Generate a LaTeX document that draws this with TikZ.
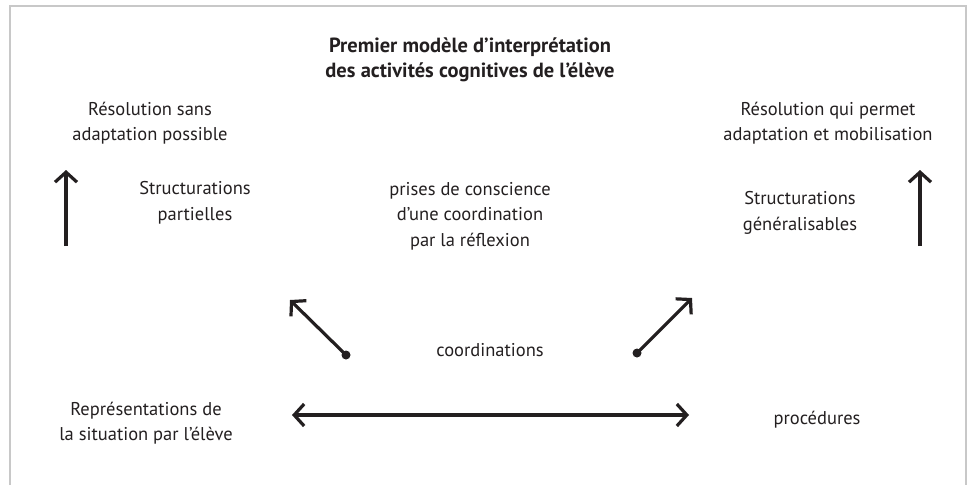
\documentclass[tikz,border=0pt]{standalone}
\usepackage{fontspec}
\setmainfont{PT Sans}
\usetikzlibrary{arrows.meta}
\definecolor{txt}{HTML}{231F20}
\definecolor{frame}{HTML}{C8C8C8}
\begin{document}
\begin{tikzpicture}[x=1pt,y=-1pt,
  lbl/.style={text=txt,font=\fontsize{18.5}{25.5}\selectfont,align=center,inner sep=0pt},
  tip/.style={Straight Barb[length=10pt,width=22pt,line width=3.2pt]},
  arr/.style={draw=txt,line width=3.2pt,-{Straight Barb[length=10pt,width=22pt,line width=3.2pt]}},
  darr/.style={draw=txt,line width=3.2pt,{Straight Barb[length=10pt,width=22pt,line width=3.2pt]}-{Straight Barb[length=10pt,width=22pt,line width=3.2pt]}},
  dot/.style={circle,fill=txt,inner sep=0pt,minimum size=9pt}]
\useasboundingbox (0,0) rectangle (976,485);
\draw[frame,line width=2.5pt] (10,485) -- (10,6) -- (966,6) -- (966,485);
\node[lbl,font=\bfseries\fontsize{20.5}{25}\selectfont] (title) at (470,60) {Premier modèle d’interprétation\\des activités cognitives de l’élève};
\node[lbl] (rsans) at (150,123) {Résolution sans\\adaptation possible};
\node[lbl] (rqui) at (828,123) {Résolution qui permet\\adaptation et mobilisation};
\node[lbl] (spart) at (195,203) {Structurations\\partielles};
\node[lbl] (prises) at (470,216) {prises de conscience\\d’une coordination\\par la réflexion};
\node[lbl] (sgen) at (800,213) {Structurations\\généralisables};
\node[lbl] (coord) at (490,350) {coordinations};
\node[lbl] (repr) at (146,423) {Représentations de\\la situation par l’élève};
\node[lbl] (proc) at (817,420) {procédures};
\coordinate (lub) at (66,246); \coordinate (lut) at (66,170);
\coordinate (rub) at (920,246); \coordinate (rut) at (920,170);
\draw[arr] (lub) -- (lut);
\draw[arr] (rub) -- (rut);
\node[dot] (ld) at (346,355) {};
\node[dot] (rd) at (637,353) {};
\coordinate (lt) at (290,300); \coordinate (rt) at (692,298);
\draw[arr] (ld.center) -- (lt);
\draw[arr] (rd.center) -- (rt);
\coordinate (hl) at (292,415); \coordinate (hr) at (689,415);
\draw[darr] (hl) -- (hr);
\end{tikzpicture}
\end{document}
